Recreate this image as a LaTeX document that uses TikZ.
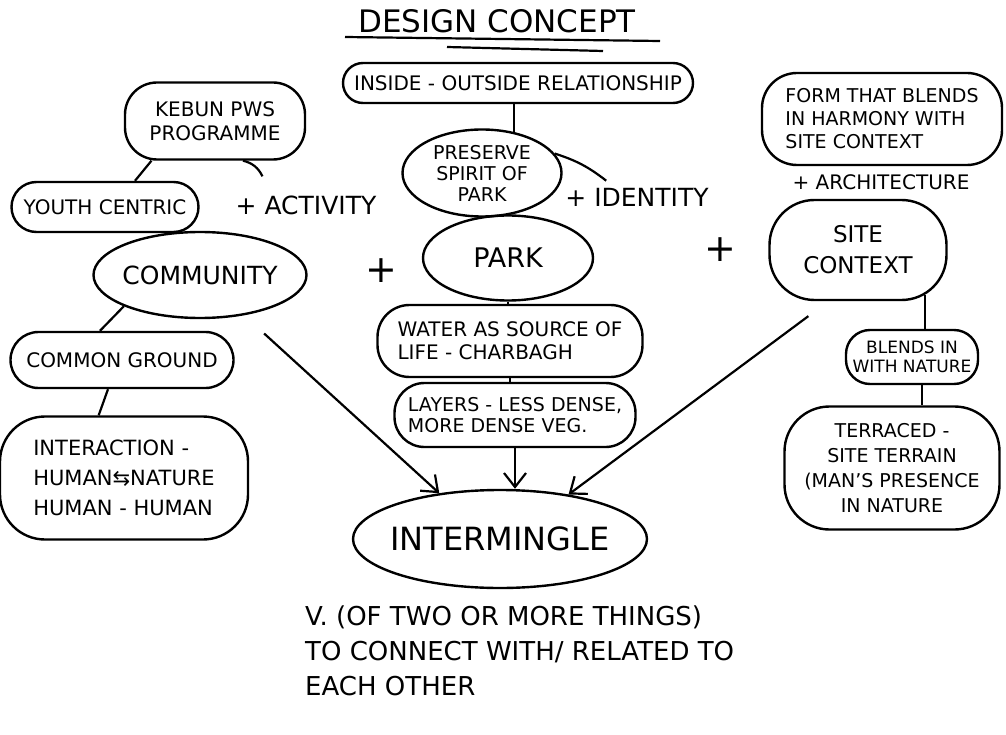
\documentclass[tikz,border=0pt]{standalone}
\usepackage{fontspec}
\setmainfont{DejaVu Sans}
\usetikzlibrary{shapes.geometric,arrows.meta}
\newcommand\myfs[2]{\fontsize{#1}{#2}\selectfont}
\begin{document}
\begin{tikzpicture}[x=1pt,y=-1pt,
  shp/.style={draw, line width=2.4pt, inner sep=0pt},
  ell/.style={shp, ellipse},
  rr/.style={shp, rectangle, rounded corners=#1},
  link/.style={line width=2.2pt},
  arr/.style={line width=2.2pt, -{Straight Barb[length=14pt,width=22pt]}},
  lbl/.style={inner sep=1pt},
]
\fill[white] (0,0) rectangle (1006,735);
\useasboundingbox (0,0) rectangle (1006,735);

% title
\node[lbl, font=\myfs{31}{36}] (title) at (497,21) {DESIGN CONCEPT};
\coordinate (ulA) at (345,37); \coordinate (ulB) at (660,41);
\coordinate (ulC) at (447,47); \coordinate (ulD) at (603,51);
\draw[link] (ulA) -- (ulB);
\draw[link] (ulC) -- (ulD);

% left column
\node[rr=32pt, minimum width=180pt, minimum height=77pt, align=center, font=\myfs{20}{24}] (kebun) at (215,121) {KEBUN PWS\\PROGRAMME};
\node[rr=25pt, minimum width=187pt, minimum height=50pt, font=\myfs{20}{24}] (youth) at (105,207) {YOUTH CENTRIC};
\node[ell, minimum width=213pt, minimum height=86pt, label={[font=\myfs{25}{30}]center:COMMUNITY}] (community) at (200,275) {};
\node[lbl, font=\myfs{25}{30}] (activity) at (306,205) {+ ACTIVITY};
\node[lbl, font=\myfs{38}{40}] (plusA) at (381,271) {+};
\node[rr=28pt, minimum width=223pt, minimum height=56pt, font=\myfs{20}{24}] (common) at (122,360) {COMMON GROUND};
\node[rr=45pt, minimum width=248pt, minimum height=123pt, align=left, font=\myfs{21}{30}] (interaction) at (124,478) {INTERACTION -\\HUMAN⇆NATURE\\HUMAN - HUMAN};

% middle column
\node[rr=20pt, minimum width=350pt, minimum height=40pt, font=\myfs{20}{24}] (inside) at (518,83) {INSIDE - OUTSIDE RELATIONSHIP};
\node[ell, minimum width=159pt, minimum height=87pt, label={[font=\myfs{19}{21}, align=center]center:{PRESERVE\\SPIRIT OF\\PARK}}] (preserve) at (482,173) {};
\node[lbl, font=\myfs{25}{30}] (identity) at (637,197) {+ IDENTITY};
\node[ell, minimum width=170pt, minimum height=85pt, label={[font=\myfs{27}{30}]center:PARK}] (park) at (508,258) {};
\node[lbl, font=\myfs{38}{40}] (plusB) at (720,250) {+};
\node[rr=32pt, minimum width=265pt, minimum height=72pt, align=left, font=\myfs{20}{23}] (water) at (510,341) {WATER AS SOURCE OF\\LIFE - CHARBAGH};
\node[rr=30pt, minimum width=241pt, minimum height=64pt, align=left, font=\myfs{19}{21}] (layers) at (515,415) {LAYERS - LESS DENSE,\\MORE DENSE VEG.};
\node[ell, minimum width=294pt, minimum height=98pt, label={[font=\myfs{32}{36}]center:INTERMINGLE}] (intermingle) at (500,539) {};
\node[inner sep=0pt, anchor=north west, align=left, font=\myfs{26}{35}] (defn) at (305,606) {V. (OF TWO OR MORE THINGS)\\TO CONNECT WITH/ RELATED TO\\EACH OTHER};

% right column
\node[rr=35pt, minimum width=240pt, minimum height=92pt, align=left, font=\myfs{19}{23}] (form) at (882,119) {FORM THAT BLENDS\\IN HARMONY WITH\\SITE CONTEXT};
\node[lbl, font=\myfs{20}{24}] (architecture) at (881,182) {+ ARCHITECTURE};
\node[rr=45pt, minimum width=177pt, minimum height=100pt, align=center, font=\myfs{23}{31}] (site) at (858,250) {SITE\\CONTEXT};
\node[rr=24pt, minimum width=132pt, minimum height=54pt, align=center, font=\myfs{17}{19}] (blends) at (912,357) {BLENDS IN\\WITH NATURE};
\node[rr=45pt, minimum width=215pt, minimum height=123pt, align=center, font=\myfs{19}{25}] (terraced) at (892,468) {TERRACED -\\SITE TERRAIN\\(MAN'S PRESENCE\\IN NATURE};

% connectors
\draw[link] (kebun.212) -- ([xshift=30pt]youth.north);
\draw[link] ([xshift=28pt]kebun.south) to[bend left=25] ([xshift=28pt,yshift=18pt]activity.north west);
\draw[link] (community.south west) -- ([xshift=-22pt]common.north);
\draw[link] ([xshift=-14pt]common.south) -- (interaction.112);
\draw[link] (inside.south -| preserve.52) -- (preserve.52);
\draw[link] (preserve.15) to[bend left=10] ([xshift=42pt,yshift=6pt]identity.north west);
\draw[link] (park.south) -- (park.south |- water.north);
\draw[link] (water.south) -- (water.south |- layers.north);
\draw[link] ([xshift=67pt,yshift=6pt]site.south) -- ([xshift=13pt]blends.north);
\draw[link] ([xshift=10pt]blends.south) -- ([xshift=10pt]blends.south |- terraced.north);
\draw[arr, shorten <=27pt] (community) -- (intermingle.143);
\draw[arr] (layers.south) -- (layers.south |- intermingle.north);
\draw[arr, shorten <=25pt] (site.240) -- (intermingle.33);
\end{tikzpicture}
\end{document}
